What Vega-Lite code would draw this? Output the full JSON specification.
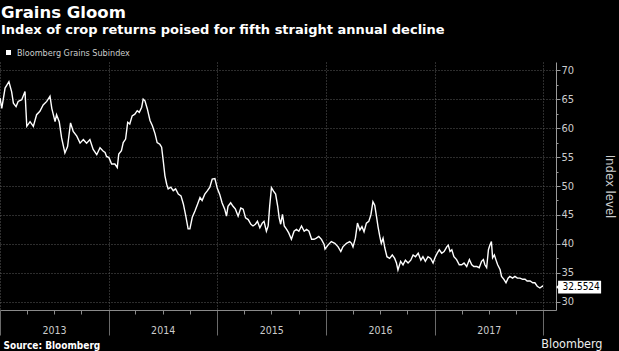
{
  "$schema": "https://vega.github.io/schema/vega-lite/v6.json",
  "width": 556,
  "height": 248,
  "autosize": {"type": "none"},
  "padding": {"left": 0, "top": 62, "right": 63, "bottom": 41},
  "background": "#000000",
  "title": {
    "text": "Grains Gloom",
    "subtitle": "Index of crop returns poised for fifth straight annual decline",
    "anchor": "start",
    "frame": "group",
    "offset": 11,
    "dx": 1,
    "fontSize": 16.5,
    "font": "DejaVu Sans",
    "fontWeight": "bold",
    "color": "#ffffff",
    "subtitleFont": "DejaVu Sans",
    "subtitleFontSize": 13,
    "subtitleFontWeight": "bold",
    "subtitleColor": "#ffffff",
    "subtitlePadding": 2.5
  },
  "config": {
    "view": {"stroke": null},
    "font": "DejaVu Sans Condensed",
    "axis": {"labelFont": "DejaVu Sans Condensed", "titleFont": "DejaVu Sans Condensed"}
  },
  "datasets": {
    "series": [
      {"d": "2013-01-01", "v": 65.2}, {"d": "2013-01-07", "v": 63.4}, {"d": "2013-01-18", "v": 66.9}, {"d": "2013-01-31", "v": 68.0},
      {"d": "2013-02-09", "v": 66.3}, {"d": "2013-02-15", "v": 64.3}, {"d": "2013-02-24", "v": 63.7}, {"d": "2013-03-03", "v": 64.6},
      {"d": "2013-03-15", "v": 64.9}, {"d": "2013-03-26", "v": 66.3}, {"d": "2013-04-01", "v": 60.3}, {"d": "2013-04-12", "v": 61.1},
      {"d": "2013-04-23", "v": 60.3}, {"d": "2013-05-04", "v": 62.3}, {"d": "2013-05-15", "v": 62.9}, {"d": "2013-05-26", "v": 64.0},
      {"d": "2013-06-07", "v": 64.6}, {"d": "2013-06-18", "v": 65.5}, {"d": "2013-06-24", "v": 63.4}, {"d": "2013-07-05", "v": 61.1},
      {"d": "2013-07-10", "v": 62.3}, {"d": "2013-07-19", "v": 61.1}, {"d": "2013-07-27", "v": 58.3}, {"d": "2013-08-07", "v": 55.7},
      {"d": "2013-08-16", "v": 56.8}, {"d": "2013-08-26", "v": 60.9}, {"d": "2013-09-04", "v": 59.4}, {"d": "2013-09-16", "v": 58.6},
      {"d": "2013-09-27", "v": 57.4}, {"d": "2013-10-08", "v": 58.0}, {"d": "2013-10-19", "v": 57.4}, {"d": "2013-10-30", "v": 58.0},
      {"d": "2013-11-10", "v": 56.3}, {"d": "2013-11-22", "v": 55.4}, {"d": "2013-12-03", "v": 56.6}, {"d": "2013-12-14", "v": 56.0},
      {"d": "2013-12-20", "v": 55.8}, {"d": "2013-12-25", "v": 55.1},
      {"d": "2014-01-02", "v": 54.9}, {"d": "2014-01-11", "v": 53.8}, {"d": "2014-01-22", "v": 53.8}, {"d": "2014-01-30", "v": 53.2},
      {"d": "2014-02-04", "v": 55.5}, {"d": "2014-02-13", "v": 56.1}, {"d": "2014-02-19", "v": 57.5}, {"d": "2014-02-27", "v": 58.1},
      {"d": "2014-03-06", "v": 61.0}, {"d": "2014-03-13", "v": 60.7}, {"d": "2014-03-21", "v": 62.1}, {"d": "2014-03-30", "v": 62.4},
      {"d": "2014-04-07", "v": 63.0}, {"d": "2014-04-14", "v": 62.7}, {"d": "2014-04-22", "v": 63.6}, {"d": "2014-04-27", "v": 65.0},
      {"d": "2014-05-03", "v": 64.7}, {"d": "2014-05-11", "v": 63.3}, {"d": "2014-05-20", "v": 61.3}, {"d": "2014-05-28", "v": 60.4},
      {"d": "2014-06-06", "v": 59.0}, {"d": "2014-06-13", "v": 57.5}, {"d": "2014-06-22", "v": 57.2}, {"d": "2014-06-28", "v": 56.7},
      {"d": "2014-07-04", "v": 54.1}, {"d": "2014-07-09", "v": 51.8}, {"d": "2014-07-15", "v": 50.3}, {"d": "2014-07-20", "v": 49.5},
      {"d": "2014-07-29", "v": 49.8}, {"d": "2014-08-06", "v": 49.2}, {"d": "2014-08-14", "v": 49.5}, {"d": "2014-08-23", "v": 48.6},
      {"d": "2014-09-01", "v": 48.3}, {"d": "2014-09-09", "v": 46.9}, {"d": "2014-09-17", "v": 44.9}, {"d": "2014-09-25", "v": 42.6},
      {"d": "2014-10-01", "v": 42.6}, {"d": "2014-10-09", "v": 44.6}, {"d": "2014-10-18", "v": 45.7}, {"d": "2014-10-27", "v": 46.9},
      {"d": "2014-11-04", "v": 48.0}, {"d": "2014-11-11", "v": 47.5}, {"d": "2014-11-20", "v": 48.6}, {"d": "2014-11-29", "v": 49.2},
      {"d": "2014-12-07", "v": 49.8}, {"d": "2014-12-15", "v": 51.2}, {"d": "2014-12-24", "v": 51.3},
      {"d": "2015-01-01", "v": 49.6}, {"d": "2015-01-09", "v": 48.6}, {"d": "2015-01-17", "v": 47.1}, {"d": "2015-01-26", "v": 46.0},
      {"d": "2015-02-01", "v": 44.8}, {"d": "2015-02-06", "v": 46.5}, {"d": "2015-02-15", "v": 47.1}, {"d": "2015-02-23", "v": 46.5},
      {"d": "2015-03-03", "v": 46.0}, {"d": "2015-03-12", "v": 44.8}, {"d": "2015-03-21", "v": 46.2}, {"d": "2015-03-29", "v": 46.0},
      {"d": "2015-04-06", "v": 44.5}, {"d": "2015-04-15", "v": 44.2}, {"d": "2015-04-24", "v": 43.4}, {"d": "2015-05-01", "v": 43.1},
      {"d": "2015-05-09", "v": 43.4}, {"d": "2015-05-16", "v": 43.9}, {"d": "2015-05-24", "v": 42.8}, {"d": "2015-06-01", "v": 43.6},
      {"d": "2015-06-07", "v": 43.9}, {"d": "2015-06-15", "v": 42.2}, {"d": "2015-06-21", "v": 43.1}, {"d": "2015-06-26", "v": 46.5},
      {"d": "2015-07-02", "v": 49.7}, {"d": "2015-07-09", "v": 49.1}, {"d": "2015-07-16", "v": 48.6}, {"d": "2015-07-23", "v": 46.5},
      {"d": "2015-07-28", "v": 44.5}, {"d": "2015-08-02", "v": 43.4}, {"d": "2015-08-08", "v": 45.1}, {"d": "2015-08-14", "v": 43.1},
      {"d": "2015-08-22", "v": 42.5}, {"d": "2015-08-29", "v": 41.9}, {"d": "2015-09-07", "v": 40.8}, {"d": "2015-09-16", "v": 42.2},
      {"d": "2015-09-24", "v": 42.5}, {"d": "2015-10-02", "v": 42.2}, {"d": "2015-10-11", "v": 43.1}, {"d": "2015-10-20", "v": 42.2},
      {"d": "2015-10-28", "v": 42.5}, {"d": "2015-11-05", "v": 42.2}, {"d": "2015-11-14", "v": 40.8}, {"d": "2015-11-22", "v": 40.8},
      {"d": "2015-11-30", "v": 41.0}, {"d": "2015-12-08", "v": 41.3}, {"d": "2015-12-17", "v": 40.8}, {"d": "2015-12-26", "v": 39.9},
      {"d": "2015-12-29", "v": 39.1},
      {"d": "2016-01-08", "v": 39.8}, {"d": "2016-01-19", "v": 40.4}, {"d": "2016-01-31", "v": 40.1}, {"d": "2016-02-11", "v": 39.5},
      {"d": "2016-02-20", "v": 38.7}, {"d": "2016-02-27", "v": 39.5}, {"d": "2016-03-10", "v": 40.1}, {"d": "2016-03-21", "v": 40.4},
      {"d": "2016-03-27", "v": 40.1}, {"d": "2016-04-01", "v": 39.5}, {"d": "2016-04-09", "v": 41.0}, {"d": "2016-04-16", "v": 43.6},
      {"d": "2016-04-24", "v": 42.4}, {"d": "2016-05-01", "v": 43.0}, {"d": "2016-05-08", "v": 42.1}, {"d": "2016-05-16", "v": 43.6},
      {"d": "2016-05-24", "v": 43.9}, {"d": "2016-05-31", "v": 45.0}, {"d": "2016-06-07", "v": 47.3}, {"d": "2016-06-13", "v": 46.7},
      {"d": "2016-06-19", "v": 44.7}, {"d": "2016-06-24", "v": 43.0}, {"d": "2016-06-30", "v": 41.3}, {"d": "2016-07-05", "v": 40.1},
      {"d": "2016-07-11", "v": 41.0}, {"d": "2016-07-17", "v": 39.3}, {"d": "2016-07-24", "v": 37.8}, {"d": "2016-08-02", "v": 37.5},
      {"d": "2016-08-11", "v": 38.1}, {"d": "2016-08-19", "v": 37.5}, {"d": "2016-08-25", "v": 36.7}, {"d": "2016-08-30", "v": 35.5},
      {"d": "2016-09-08", "v": 37.0}, {"d": "2016-09-16", "v": 36.4}, {"d": "2016-09-24", "v": 37.2}, {"d": "2016-10-03", "v": 36.7},
      {"d": "2016-10-12", "v": 37.2}, {"d": "2016-10-20", "v": 38.1}, {"d": "2016-10-28", "v": 37.8}, {"d": "2016-11-06", "v": 38.4},
      {"d": "2016-11-15", "v": 37.2}, {"d": "2016-11-22", "v": 37.8}, {"d": "2016-11-30", "v": 37.0}, {"d": "2016-12-09", "v": 37.8},
      {"d": "2016-12-18", "v": 37.5}, {"d": "2016-12-26", "v": 36.7},
      {"d": "2017-01-02", "v": 37.7}, {"d": "2017-01-09", "v": 38.4}, {"d": "2017-01-16", "v": 39.0}, {"d": "2017-01-24", "v": 38.4},
      {"d": "2017-02-01", "v": 38.7}, {"d": "2017-02-10", "v": 39.5}, {"d": "2017-02-15", "v": 39.8}, {"d": "2017-02-21", "v": 38.7},
      {"d": "2017-02-27", "v": 39.0}, {"d": "2017-03-06", "v": 37.8}, {"d": "2017-03-15", "v": 37.3}, {"d": "2017-03-24", "v": 36.4},
      {"d": "2017-04-01", "v": 36.4}, {"d": "2017-04-09", "v": 36.7}, {"d": "2017-04-18", "v": 36.1}, {"d": "2017-04-27", "v": 37.3},
      {"d": "2017-05-05", "v": 36.4}, {"d": "2017-05-12", "v": 36.1}, {"d": "2017-05-22", "v": 36.1}, {"d": "2017-05-30", "v": 35.9},
      {"d": "2017-06-07", "v": 37.0}, {"d": "2017-06-13", "v": 37.3}, {"d": "2017-06-18", "v": 36.4}, {"d": "2017-06-24", "v": 35.9},
      {"d": "2017-06-30", "v": 39.0}, {"d": "2017-07-05", "v": 39.8}, {"d": "2017-07-10", "v": 40.4}, {"d": "2017-07-14", "v": 37.6},
      {"d": "2017-07-20", "v": 38.1}, {"d": "2017-07-25", "v": 37.3}, {"d": "2017-07-31", "v": 36.4}, {"d": "2017-08-08", "v": 35.6},
      {"d": "2017-08-13", "v": 34.4}, {"d": "2017-08-21", "v": 33.9}, {"d": "2017-08-28", "v": 33.3}, {"d": "2017-09-04", "v": 34.1},
      {"d": "2017-09-10", "v": 34.4}, {"d": "2017-09-19", "v": 34.1}, {"d": "2017-09-27", "v": 34.4}, {"d": "2017-10-05", "v": 34.1},
      {"d": "2017-10-14", "v": 34.1}, {"d": "2017-10-23", "v": 33.9}, {"d": "2017-10-31", "v": 33.9}, {"d": "2017-11-07", "v": 33.6},
      {"d": "2017-11-17", "v": 33.6}, {"d": "2017-11-26", "v": 33.3}, {"d": "2017-12-03", "v": 33.3}, {"d": "2017-12-11", "v": 32.7},
      {"d": "2017-12-20", "v": 32.4}, {"d": "2017-12-28", "v": 32.7}, {"d": "2017-12-29", "v": 32.5524}
    ],
    "last": [{"d": "2017-12-29", "v": 32.5524}]
  },
  "layer": [
    {
      "data": {"name": "series"},
      "mark": {"type": "line", "color": "#ffffff", "strokeWidth": 1.4, "clip": true},
      "encoding": {
        "x": {
          "field": "d", "type": "temporal",
          "scale": {"type": "utc", "domain": [{"year": 2013, "month": 1, "date": 1, "utc": true}, {"year": 2018, "month": 2, "date": 12, "utc": true}]},
          "axis": {
            "orient": "bottom",
            "values": [
              {"year": 2013, "month": 1, "date": 1, "utc": true},
              {"year": 2014, "month": 1, "date": 1, "utc": true},
              {"year": 2015, "month": 1, "date": 1, "utc": true},
              {"year": 2016, "month": 1, "date": 1, "utc": true},
              {"year": 2017, "month": 1, "date": 1, "utc": true},
              {"year": 2018, "month": 1, "date": 1, "utc": true}
            ],
            "labelExpr": "utcyear(datum.value) < 2018 ? utcFormat(datum.value, '%Y') : ''",
            "labelOffset": 54,
            "labelAlign": "center",
            "labelBaseline": "middle",
            "labelPadding": -5,
            "labelColor": "#cccccc",
            "labelFontSize": 10.5,
            "labelFlush": false,
            "labelOverlap": false,
            "tickSize": 25,
            "tickColor": "#6a6a6a",
            "domainColor": "#8a8a8a",
            "grid": true,
            "gridColor": "#5a5a5a",
            "gridDash": [1, 2],
            "title": "Source: Bloomberg",
            "titleAnchor": "start",
            "titleAlign": "left",
            "titleBaseline": "alphabetic",
            "titleX": 3,
            "titleY": 38,
            "titleFontSize": 10,
            "titleFontWeight": "bold",
            "titleColor": "#ffffff"
          }
        },
        "y": {
          "field": "v", "type": "quantitative",
          "scale": {"domain": [28.6, 71.4], "nice": false, "zero": false},
          "axis": {
            "orient": "right",
            "values": [30, 35, 40, 45, 50, 55, 60, 65, 70],
            "tickSize": 4,
            "tickColor": "#9a9a9a",
            "labelPadding": 1,
            "labelColor": "#cccccc",
            "labelFontSize": 11,
            "domainColor": "#9a9a9a",
            "grid": true,
            "gridColor": "#5a5a5a",
            "gridDash": [1, 2],
            "title": "Index level",
            "titleAngle": 90,
            "titleColor": "#cccccc",
            "titleFontSize": 13,
            "titleFontWeight": "normal",
            "titlePadding": 29
          }
        },
        "color": {
          "datum": "Bloomberg Grains Subindex",
          "scale": {"range": ["#ffffff"]},
          "legend": {
            "title": null,
            "orient": "none",
            "legendX": 4,
            "legendY": -14,
            "symbolType": "square",
            "symbolFillColor": "#ffffff",
            "symbolStrokeColor": "#ffffff",
            "symbolStrokeWidth": 0,
            "symbolSize": 25,
            "labelColor": "#cccccc",
            "labelFontSize": 9,
            "labelOffset": 4,
            "labelFont": "DejaVu Sans Condensed"
          }
        }
      }
    },
    {
      "data": {"name": "last"},
      "mark": {
        "type": "point",
        "shape": "M-1,-0.3L1,-0.3L1,0.3L-1,0.3L-1,0.09L-1.09,0L-1,-0.09Z",
        "size": 1849,
        "filled": true,
        "color": "#ffffff",
        "opacity": 1,
        "xOffset": 37,
        "clip": false
      },
      "encoding": {
        "x": {
          "field": "d", "type": "temporal",
          "axis": {
            "orient": "bottom",
            "values": [
              {"year": 2013, "month": 4, "date": 1, "utc": true}, {"year": 2013, "month": 7, "date": 1, "utc": true}, {"year": 2013, "month": 10, "date": 1, "utc": true},
              {"year": 2014, "month": 4, "date": 1, "utc": true}, {"year": 2014, "month": 7, "date": 1, "utc": true}, {"year": 2014, "month": 10, "date": 1, "utc": true},
              {"year": 2015, "month": 4, "date": 1, "utc": true}, {"year": 2015, "month": 7, "date": 1, "utc": true}, {"year": 2015, "month": 10, "date": 1, "utc": true},
              {"year": 2016, "month": 4, "date": 1, "utc": true}, {"year": 2016, "month": 7, "date": 1, "utc": true}, {"year": 2016, "month": 10, "date": 1, "utc": true},
              {"year": 2017, "month": 4, "date": 1, "utc": true}, {"year": 2017, "month": 7, "date": 1, "utc": true}, {"year": 2017, "month": 10, "date": 1, "utc": true}
            ],
            "labels": false,
            "grid": false,
            "domain": false,
            "tickSize": 4,
            "tickColor": "#8a8a8a",
            "title": "Bloomberg",
            "titleAnchor": "end",
            "titleAlign": "right",
            "titleBaseline": "alphabetic",
            "titleX": 602,
            "titleY": 37,
            "titleFontSize": 12.5,
            "titleFontWeight": "normal",
            "titleColor": "#eeeeee"
          }
        },
        "y": {
          "field": "v", "type": "quantitative",
          "axis": {
            "orient": "right",
            "values": [32.5, 37.5, 42.5, 47.5, 52.5, 57.5, 62.5, 67.5],
            "labels": false,
            "grid": false,
            "domain": false,
            "tickSize": 2,
            "tickColor": "#9a9a9a",
            "title": null
          }
        }
      }
    },
    {
      "data": {"name": "last"},
      "mark": {"type": "text", "color": "#000000", "align": "left", "baseline": "middle", "dx": 20, "fontSize": 10, "font": "DejaVu Sans Condensed", "clip": false},
      "encoding": {
        "x": {"field": "d", "type": "temporal", "axis": null},
        "y": {"field": "v", "type": "quantitative", "axis": null},
        "text": {"field": "v", "type": "quantitative", "format": ".4f"}
      }
    }
  ],
  "resolve": {"axis": {"x": "independent", "y": "independent"}}
}
